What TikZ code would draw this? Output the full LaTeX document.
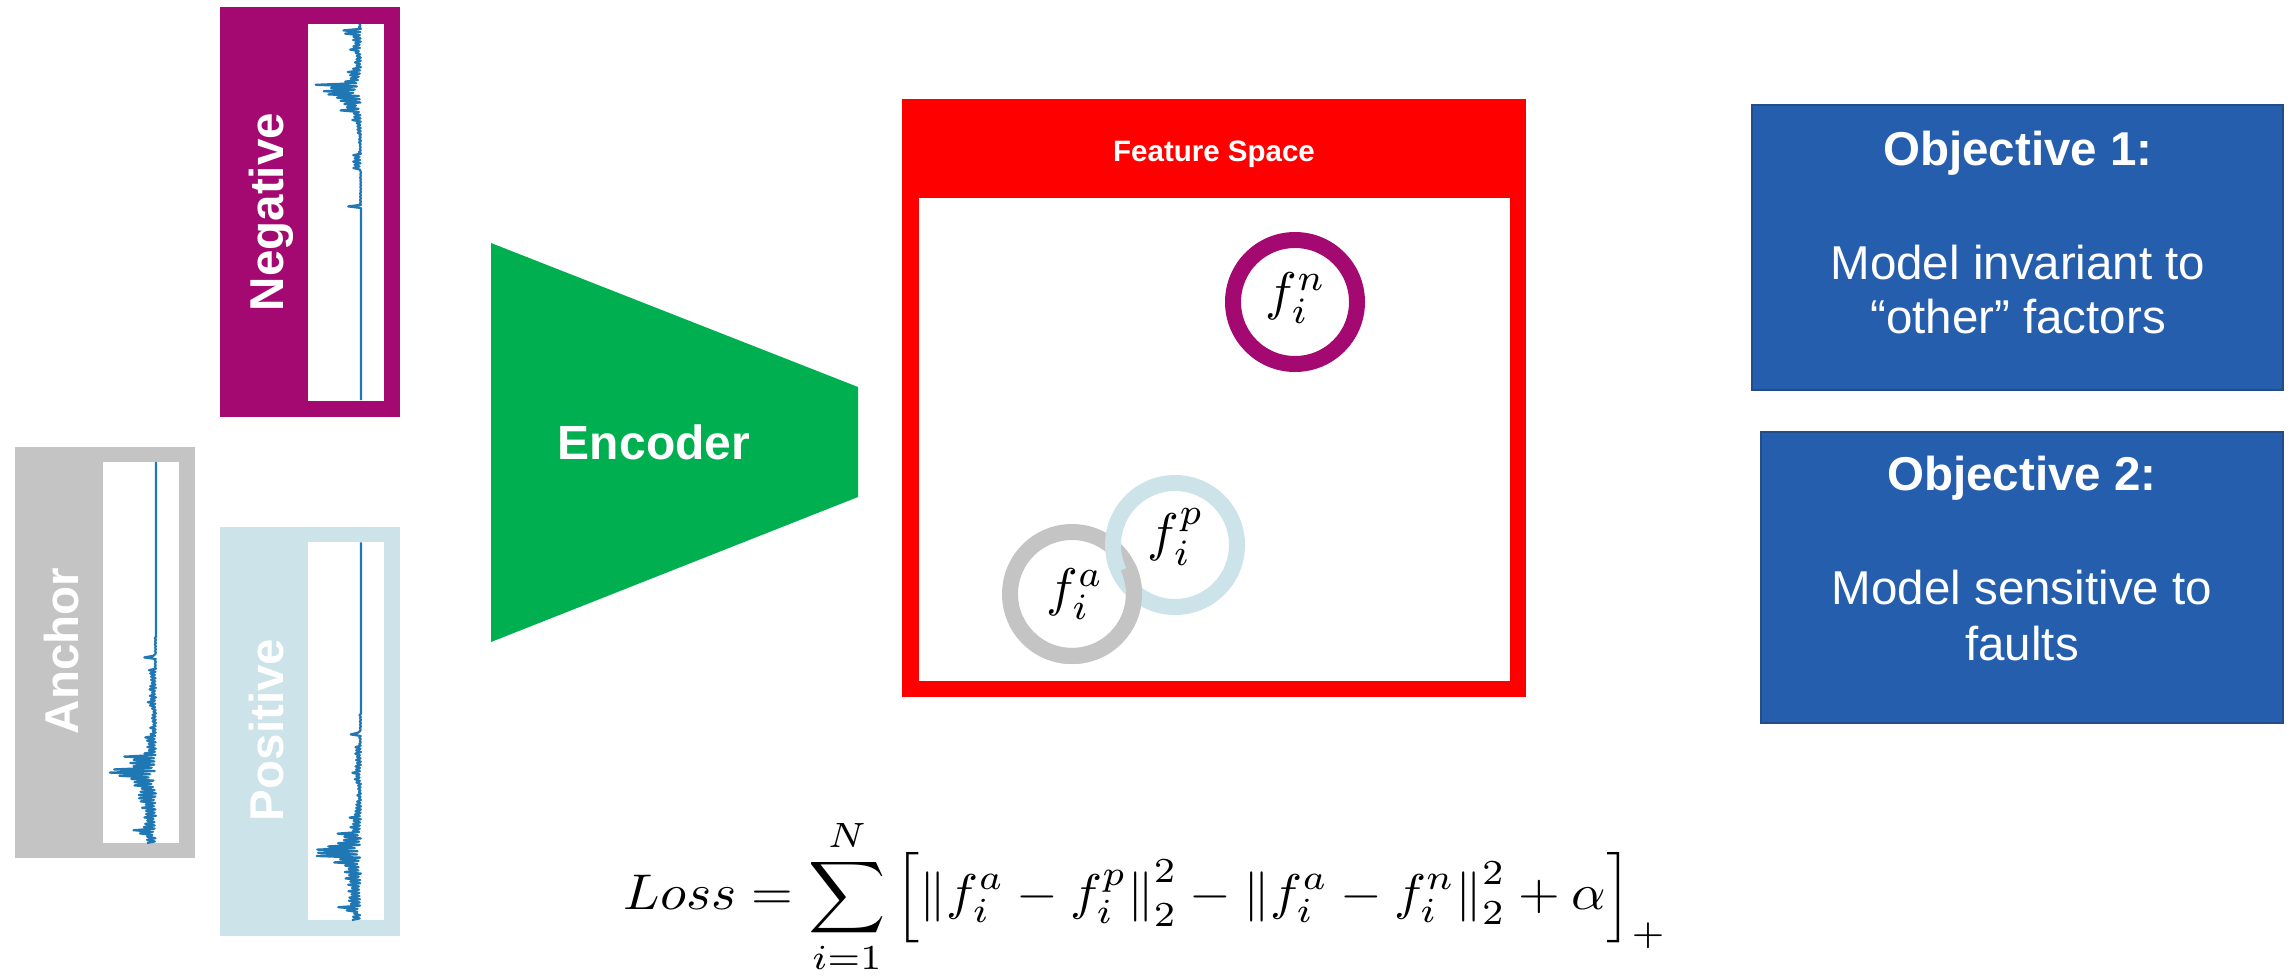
\documentclass[tikz,border=0pt]{standalone}
\usepackage{fontspec}
\usepackage{graphicx}
\newfontfamily\arial{Liberation Sans}
\definecolor{negc}{RGB}{163,9,113}
\definecolor{ancc}{RGB}{196,196,196}
\definecolor{posc}{RGB}{203,227,233}
\definecolor{encc}{RGB}{0,176,80}
\definecolor{objc}{RGB}{38,94,174}
\definecolor{objb}{RGB}{36,76,136}
\definecolor{sigc}{RGB}{31,119,180}
\begin{document}
\begin{tikzpicture}[x=1pt,y=-1pt,
  declare function={
    envanc(\t)=12*(\t<8)+24*(\t>8)*(\t<16)+14*(\t>16)*(\t<21)+15*(\t>21)*(\t<40)+18*(\t>40)*(\t<56)+28*(\t>56)*(\t<63)+46*(\t>63)*(\t<70)+53*(\t>70)*(\t<75)+28*(\t>75)*(\t<85)+33*(\t>85)*(\t<88)+12*(\t>88)*(\t<106)+6*(\t>106)*(\t<116)+4*(\t>116)*(\t<135)+9*(\t>135)*(\t<148)+7*(\t>148)*(\t<175)+2*(\t>175)*(\t<185)+18*(\t>185)*(\t<188)+1.5*(\t>188)*(\t<205);
    envneg(\t)=3*(\t<6)+22*(\t>6)*(\t<11)+8*(\t>11)*(\t<24)+13*(\t>24)*(\t<28)+8*(\t>28)*(\t<44)+14*(\t>44)*(\t<54)+20*(\t>54)*(\t<59)+53*(\t>59)*(\t<63)+45*(\t>63)*(\t<71)+28*(\t>71)*(\t<87)+12*(\t>87)*(\t<98)+5*(\t>98)*(\t<111)+2*(\t>111)*(\t<131)+9*(\t>131)*(\t<146)+1*(\t>146)*(\t<181)+18*(\t>181)*(\t<184);
    spk(\k)=ifthenelse(mod(round(\k),2)<0.5, 0.5+0.5*rnd, 0.18*rnd);
  },
  sig/.style={draw=sigc, line width=2.2pt, line join=round},
  lab/.style={font=\arial\bfseries\fontsize{47.5}{50}\selectfont, text=white, rotate=90, anchor=base, inner sep=0pt},
  objtitle/.style={font=\arial\bfseries\fontsize{47.5}{52}\selectfont, text=white, anchor=base, inner sep=0pt},
  objtext/.style={font=\arial\fontsize{47.5}{52}\selectfont, text=white, anchor=base, inner sep=0pt},
  objbox/.style={fill=objc, draw=objb, line width=2pt},
  ring/.style={circle, draw, line width=16pt, minimum size=124pt, inner sep=0pt},
  mlab/.style={inner sep=0pt}
]
\useasboundingbox (0,0) rectangle (2295,975);
\fill[white] (0,0) rectangle (2295,975);
\pgfmathsetseed{7}

% ---- input panels
\fill[negc] (219.5,7) rectangle (400,417);
\fill[white] (308,24) rectangle (384,401);
\fill[ancc] (14.5,447) rectangle (195,858);
\fill[white] (103,462) rectangle (179,843);
\fill[posc] (219.5,527) rectangle (400,936);
\fill[white] (308,542) rectangle (384,920);

\draw[sig] plot[variable=\k, domain=0:235, samples=236] ({361-envneg(1.6*\k)*spk(\k)}, {24+1.6*\k});
\draw[sig] plot[variable=\k, domain=0:238, samples=239] ({156-envanc(1.6*\k)*spk(\k)}, {843-1.6*\k});
\draw[sig] plot[variable=\k, domain=0:236, samples=237] ({361-envanc(1.6*\k)*spk(\k)}, {920-1.6*\k});

\node[lab] (lneg) at (283,212) {Negative};
\node[lab] (lanc) at (78,651) {Anchor};
\node[lab] (lpos) at (283,730) {Positive};

% ---- encoder
\fill[encc] (491,243) -- (858,387) -- (858,497) -- (491,642) -- cycle;
\node[objtitle, font=\arial\bfseries\fontsize{48}{52}\selectfont] (enc) at (654,459) {Encoder};

% ---- feature space
\fill[red] (902,99) rectangle (1526,697);
\fill[white] (919,198) rectangle (1510,681);
\node[objtitle, font=\arial\bfseries\fontsize{29.5}{32}\selectfont] (fstitle) at (1214,161) {Feature Space};

\node[ring, draw=ancc] (ra) at (1072,594) {};
\node[ring, draw=posc] (rp) at (1175,545) {};
\begin{scope}
  \clip (950,652) -- (1300,485.5) -- (1300,700) -- (950,700) -- cycle;
  \draw[ancc, line width=16pt] (ra.center) circle[radius=62pt];
\end{scope}
\node[ring, draw=negc] (rn) at (1295,302) {};
\node[mlab] (la) at (1075,594) {\scalebox{5.3}{$f_i^a$}};
\node[mlab] (lp) at (1176,537) {\scalebox{5.3}{$f_i^p$}};
\node[mlab] (ln) at (1296,298) {\scalebox{5.3}{$f_i^n$}};

% ---- objectives
\draw[objbox] (1752,105) rectangle (2283,390);
\draw[objbox] (1761,432) rectangle (2283,723);
\node[objtitle] (o1t) at (2018,165) {Objective 1:};
\node[objtext] (o1a) at (2018,279) {Model invariant to};
\node[objtext] (o1b) at (2018,333) {“other” factors};
\node[objtitle] (o2t) at (2022,490) {Objective 2:};
\node[objtext] (o2a) at (2022,604.5) {Model sensitive to};
\node[objtext] (o2b) at (2022,660.5) {faults};

% ---- loss
\node[mlab] (loss) at (1145.5,896) {\resizebox*{1043pt}{156pt}{$\displaystyle Loss = \sum_{i=1}^{N}\left[\left\|f_i^a - f_i^p\right\|_2^2 - \left\|f_i^a - f_i^n\right\|_2^2 + \alpha\right]_+$}};
\end{tikzpicture}
\end{document}
